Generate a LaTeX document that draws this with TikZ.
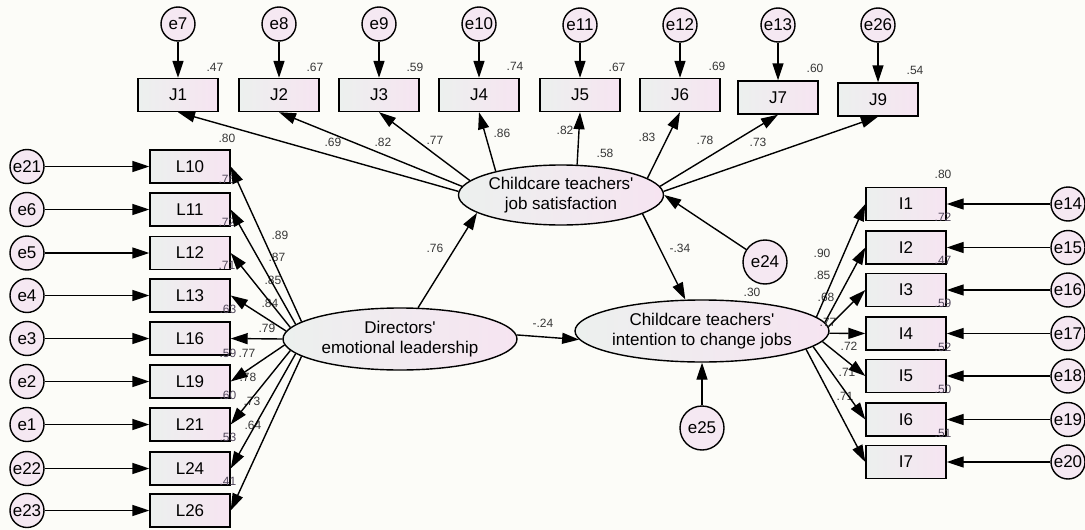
\documentclass[tikz,border=0pt]{standalone}
\usepackage{fontspec}
\setmainfont{Liberation Sans}
\newfontfamily\arialf{Liberation Sans}
\usetikzlibrary{shapes.geometric,arrows.meta}
\definecolor{boxL}{RGB}{236,240,238}
\definecolor{boxR}{RGB}{246,228,241}
\definecolor{circ}{RGB}{245,232,242}
\definecolor{bgc}{RGB}{252,252,248}
\definecolor{labc}{RGB}{55,55,55}
\definecolor{labp}{RGB}{80,70,90}
\begin{document}
\begin{tikzpicture}[x=1pt,y=-1pt,
  obs/.style={draw, line width=1.4pt, minimum width=80pt, minimum height=33pt, inner sep=0pt,
    left color=boxL, right color=boxR, font=\arialf\fontsize{17}{19}\selectfont},
  err/.style={circle, draw, line width=1.4pt, minimum size=34pt, inner sep=0pt,
    fill=circ, font=\arialf\fontsize{17}{19}\selectfont},
  errb/.style={err, minimum size=44pt},
  lat/.style={ellipse, draw, line width=1.4pt, inner sep=0pt, align=center,
    left color=boxL, right color=boxR, font=\arialf\fontsize{17}{20}\selectfont},
  arr/.style={line width=1.4pt, -{Triangle[length=17pt,width=11pt]}},
  lbl/.style={font=\arialf\fontsize{12}{14}\selectfont, text=labc, inner sep=0pt},
  lblp/.style={lbl, text=labp}
]
\fill[bgc] (0,0) rectangle (1085,530);
\useasboundingbox (0,0) rectangle (1085,530);

% latent variables
\node[lat, minimum width=234pt, minimum height=62pt] (DEL) at (400,339) {Directors'\\emotional leadership};
\node[lat, minimum width=190pt, minimum height=60pt] (JS) at (561,195) {Childcare teachers'\\job satisfaction};
\node[lat, minimum width=214pt, minimum height=62pt] (ITC) at (702,331) {Childcare teachers'\\intention to change jobs};
\node[errb] (e24) at (765,262) {e24};
\node[errb] (e25) at (702,428) {e25};

% J indicators
\node[obs] (J1) at (178,95) {J1};
\node[obs] (J2) at (279,95) {J2};
\node[obs] (J3) at (379,95) {J3};
\node[obs] (J4) at (479,95) {J4};
\node[obs] (J5) at (580,95) {J5};
\node[obs] (J6) at (680,95) {J6};
\node[obs] (J7) at (778,97.5) {J7};
\node[obs] (J9) at (878,99.5) {J9};
\node[err] (e7) at (178,24) {e7};
\node[err] (e8) at (279,24) {e8};
\node[err] (e9) at (379,24) {e9};
\node[err] (e10) at (479,24) {e10};
\node[err] (e11) at (580,25) {e11};
\node[err] (e12) at (680,25) {e12};
\node[err] (e13) at (778,25) {e13};
\node[err] (e26) at (878,25) {e26};

% L indicators
\node[obs] (L10) at (190,166.5) {L10};
\node[obs] (L11) at (190,209.5) {L11};
\node[obs] (L12) at (190,253) {L12};
\node[obs] (L13) at (190,295.5) {L13};
\node[obs] (L16) at (190,338.5) {L16};
\node[obs] (L19) at (190,381.5) {L19};
\node[obs] (L21) at (190,424.5) {L21};
\node[obs] (L24) at (190,468.5) {L24};
\node[obs] (L26) at (190,510.5) {L26};
\node[err] (e21) at (27,166.5) {e21};
\node[err] (e6) at (27,209.5) {e6};
\node[err] (e5) at (27,253) {e5};
\node[err] (e4) at (27,295.5) {e4};
\node[err] (e3) at (27,338.5) {e3};
\node[err] (e2) at (27,381.5) {e2};
\node[err] (e1) at (27,424.5) {e1};
\node[err] (e22) at (27,468.5) {e22};
\node[err] (e23) at (27,510.5) {e23};

% I indicators
\node[obs] (I1) at (906,204) {I1};
\node[obs] (I2) at (906,247.5) {I2};
\node[obs] (I3) at (906,290) {I3};
\node[obs] (I4) at (906,333.5) {I4};
\node[obs] (I5) at (906,376) {I5};
\node[obs] (I6) at (906,419.5) {I6};
\node[obs] (I7) at (906,462) {I7};
\node[err] (e14) at (1068,204) {e14};
\node[err] (e15) at (1068,247.5) {e15};
\node[err] (e16) at (1068,290) {e16};
\node[err] (e17) at (1068,333.5) {e17};
\node[err] (e18) at (1068,376) {e18};
\node[err] (e19) at (1068,419.5) {e19};
\node[err] (e20) at (1068,462) {e20};

% R-square labels
\node[lbl] (rJ1) at (215,67) {.47};
\node[lbl] (rJ2) at (315,67) {.67};
\node[lbl] (rJ3) at (415,67) {.59};
\node[lbl] (rJ4) at (515,66) {.74};
\node[lbl] (rJ5) at (617,67) {.67};
\node[lbl] (rJ6) at (717,66) {.69};
\node[lbl] (rJ7) at (815,68) {.60};
\node[lbl] (rJ9) at (915,70) {.54};
\node[lbl] (rL10) at (227,138) {.80};
\node[lblp] (rL11) at (227,179) {.76};
\node[lblp] (rL12) at (227,222) {.72};
\node[lblp] (rL13) at (227,265) {.71};
\node[lblp] (rL16) at (228,309) {.63};
\node[lblp] (rL19) at (228,353) {.59};
\node[lblp] (rL21) at (228,395) {.60};
\node[lblp] (rL24) at (228,437) {.53};
\node[lblp] (rL26) at (228,481) {.41};
\node[lbl] (rI1) at (943,174) {.80};
\node[lblp] (rI2) at (943,217) {.72};
\node[lblp] (rI3) at (943,260) {.47};
\node[lblp] (rI4) at (943,303) {.59};
\node[lblp] (rI5) at (943,347) {.52};
\node[lblp] (rI6) at (943,389) {.50};
\node[lblp] (rI7) at (943,433) {.51};
\node[lbl] (rJS) at (605,153) {.58};
\node[lbl] (rITC) at (752,292) {.30};

% loadings
\node[lbl] (wJ1) at (333,142) {.69};
\node[lbl] (wJ2) at (383,142) {.82};
\node[lbl] (wJ3) at (435,140) {.77};
\node[lbl] (wJ4) at (502,133) {.86};
\node[lbl] (wJ5) at (565,130) {.82};
\node[lbl] (wJ6) at (647,137) {.83};
\node[lbl] (wJ7) at (705,140) {.78};
\node[lbl] (wJ9) at (758,142) {.73};
\node[lbl] (wL10) at (280,235) {.89};
\node[lbl] (wL11) at (277,257) {.87};
\node[lbl] (wL12) at (273,280) {.85};
\node[lbl] (wL13) at (270,303) {.84};
\node[lbl] (wL16) at (267,328) {.79};
\node[lbl] (wL19) at (247,353) {.77};
\node[lbl] (wL21) at (248,377) {.78};
\node[lbl] (wL24) at (252,401) {.73};
\node[lbl] (wL26) at (253,425) {.64};
\node[lbl] (wI1) at (822,253) {.90};
\node[lbl] (wI2) at (822,275) {.85};
\node[lbl] (wI3) at (826,297) {.68};
\node[lbl] (wI4) at (828,322) {.77};
\node[lbl] (wI5) at (849,346) {.72};
\node[lbl] (wI6) at (847,372) {.71};
\node[lbl] (wI7) at (845,396) {.71};
\node[lbl] (wDJ) at (435,248) {.76};
\node[lbl] (wDI) at (543,323) {-.24};
\node[lbl] (wJI) at (680,248) {-.34};

% error arrows
\foreach \e/\v in {e7/J1,e8/J2,e9/J3,e10/J4,e11/J5,e12/J6,e13/J7,e26/J9,
  e21/L10,e6/L11,e5/L12,e4/L13,e3/L16,e2/L19,e1/L21,e22/L24,e23/L26,
  e14/I1,e15/I2,e16/I3,e17/I4,e18/I5,e19/I6,e20/I7}
  \draw[arr] (\e) -- (\v);

% loading arrows
\foreach \a/\v in {178/J1,175/J2,171/J3,160/J4,62/J5,11/J6,5/J7,2/J9}
  \draw[arr] (JS.\a) -- (\v.south);
\foreach \a/\v in {170/L10,172/L11,174/L12,176/L13,180/L16,183.5/L19,186.5/L21,188.5/L24,190/L26}
  \draw[arr] (DEL.\a) -- (\v.east);
\foreach \a/\v in {7.5/I1,4.5/I2,2/I3,-1/I4,-5/I5,-8/I6,-10/I7}
  \draw[arr] (ITC.\a) -- (\v.west);

% structural paths
\draw[arr] (DEL.60) -- (JS.192);
\draw[arr] (DEL.2) -- (ITC.184);
\draw[arr] (JS.-13) -- (ITC.118);
\draw[arr] (e24) -- (JS.east);
\draw[arr] (e25) -- (ITC.south);
\end{tikzpicture}
\end{document}
